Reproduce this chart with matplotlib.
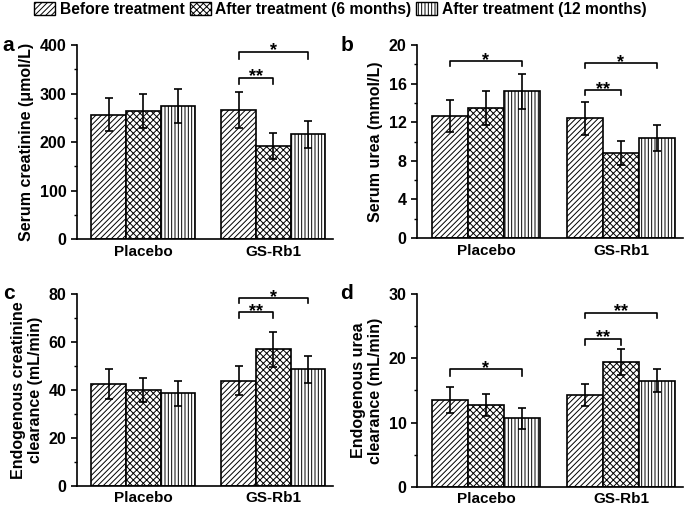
import numpy as np
import matplotlib
matplotlib.use("Agg")
import matplotlib.pyplot as plt
from matplotlib.patches import Patch
from matplotlib.ticker import MultipleLocator

plt.rcParams['font.family'] = ['Liberation Sans', 'DejaVu Sans']
plt.rcParams['font.weight'] = 'bold'
plt.rcParams['hatch.linewidth'] = 0.7

groups = ['Placebo', 'GS-Rb1']
series = ['Before treatment', 'After treatment (6 months)', 'After treatment (12 months)']
hatches = ['//////', 'xxxxx', '|||||']

# values[series][group], errors likewise
creat_mean = [[256, 266], [265, 192], [275, 216]]
creat_err = [[34, 38], [35, 26], [35, 28]]
urea_mean = [[12.65, 12.4], [13.45, 8.8], [15.2, 10.35]]
urea_err = [[1.7, 1.7], [1.75, 1.25], [1.85, 1.35]]
ccl_mean = [[42.4, 43.9], [40.0, 56.9], [38.5, 48.6]]
ccl_err = [[6.4, 6.2], [5.0, 7.4], [5.1, 5.7]]
ucl_mean = [[13.5, 14.3], [12.7, 19.4], [10.65, 16.5]]
ucl_err = [[2.0, 1.75], [1.75, 2.05], [1.6, 1.75]]

# brackets: (group, first series, last series, y line, leg bottom, label)
creat_br = [(1, 0, 2, 386, 372, '*'), (1, 0, 1, 332, 319, '**')]
urea_br = [(0, 0, 2, 18.3, 17.8, '*'), (1, 0, 2, 18.1, 17.6, '*'), (1, 0, 1, 15.3, 14.8, '**')]
ccl_br = [(1, 0, 2, 78.2, 76.0, '*'), (1, 0, 1, 72.4, 69.9, '**')]
ucl_br = [(0, 0, 2, 18.3, 17.3, '*'), (1, 0, 2, 27.1, 26.3, '**'), (1, 0, 1, 23.0, 22.1, '**')]

panels = [
    ('a', [0.1124, 0.533, 0.374, 0.379], creat_mean, creat_err, creat_br,
     'Serum creatinine (\u03bcmol/L)', 400, 100),
    ('b', [0.609, 0.535, 0.388, 0.377], urea_mean, urea_err, urea_br,
     'Serum urea (mmol/L)', 20, 4),
    ('c', [0.1124, 0.051, 0.374, 0.375], ccl_mean, ccl_err, ccl_br,
     'Endogenous creatinine\nclearance (mL/min)', 80, 20),
    ('d', [0.609, 0.049, 0.388, 0.377], ucl_mean, ucl_err, ucl_br,
     'Endogenous urea\nclearance (mL/min)', 30, 10),
]

w = 0.267
x = np.arange(len(groups))

fig = plt.figure(figsize=(6.85, 5.12), dpi=100)
for letter, pos, mean, err, brackets, ylabel, ymax, step in panels:
    ax = fig.add_axes(pos)
    for i in range(3):
        ax.bar(x + (i - 1) * w, mean[i], w, yerr=err[i], color='white',
               edgecolor='black', linewidth=1.2, hatch=hatches[i],
               error_kw=dict(ecolor='black', elinewidth=1.2, capsize=3, capthick=1.2))
    for g, s0, s1, yl, yb, lab in brackets:
        x0 = g + (s0 - 1) * w
        x1 = g + (s1 - 1) * w
        ax.plot([x0, x0, x1, x1], [yb, yl, yl, yb], color='black', lw=1.2)
        ax.annotate(lab, ((x0 + x1) / 2, yl), xytext=(0, -2.5),
                    textcoords='offset points', ha='center', va='baseline',
                    fontsize=13, fontweight='bold')
    ax.set_ylim(0, ymax)
    ax.set_xlim(-0.51, 1.46)
    ax.yaxis.set_major_locator(MultipleLocator(step))
    ax.yaxis.set_minor_locator(MultipleLocator(step / 2))
    ax.set_xticks(x)
    ax.set_xticklabels(groups, fontsize=11, fontweight='bold')
    ax.tick_params(axis='x', length=0, pad=4)
    ax.tick_params(axis='y', which='major', direction='out', length=4, width=1.2,
                   labelsize=11.5)
    ax.tick_params(axis='y', which='minor', direction='out', length=2, width=1)
    for sp in ['top', 'right']:
        ax.spines[sp].set_visible(False)
    for sp in ['left', 'bottom']:
        ax.spines[sp].set_linewidth(1.2)
    ax.set_ylabel(ylabel, fontsize=11.5, fontweight='bold', labelpad=4)
    ax.text(-0.29, 1.0, letter, transform=ax.transAxes, fontsize=15,
            fontweight='bold', ha='left', va='center')

handles = [Patch(facecolor='white', edgecolor='black', hatch=hatches[i], label=series[i])
           for i in range(3)]
fig.legend(handles=handles, loc='upper center', bbox_to_anchor=(0.497, 1.023), ncol=3,
           frameon=False, handlelength=1.35, handleheight=0.9,
           handletextpad=0.3, columnspacing=0.3, prop={'weight': 'bold', 'size': 11.25})

fig.savefig('out.png', dpi=100)
